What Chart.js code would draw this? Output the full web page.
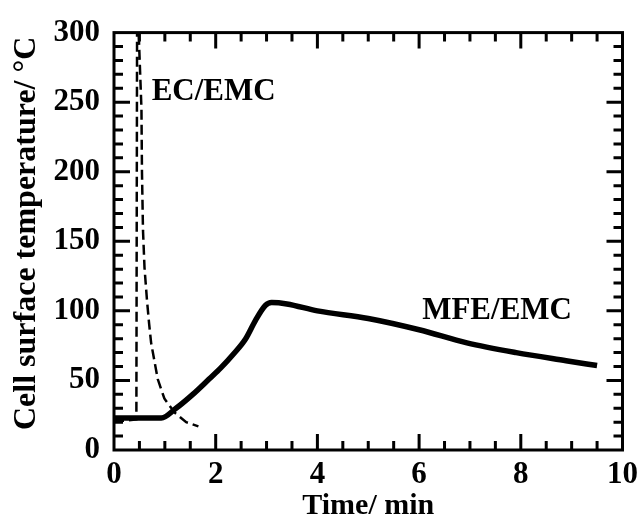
<!DOCTYPE html>
<html>
<head>
<meta charset="utf-8">
<script src="https://cdn.jsdelivr.net/npm/chart.js@4/dist/chart.umd.min.js"></script>
<style>
	body { margin: 0; background: #fff; }
	canvas { display: block; }
</style>
</head>
<body>
<canvas id="tempChart" width="644" height="521"></canvas>
<script>
// values
var mfeTime = [0, 0.5, 0.93, 1.22, 1.55, 1.87, 2.1, 2.35, 2.59, 2.78, 2.98, 3.1, 3.4, 4.0, 5.0, 6.0, 6.94, 7.91, 8.89, 9.5]
var mfeTemp = [23, 23, 23, 30, 40, 51, 59, 69, 80, 93, 104, 106, 105, 100, 94.5, 86.4, 77, 70, 64.2, 60.7]

var ecTime = [0, 0.2, 0.44, 0.455, 0.54, 0.55, 0.57, 0.6, 0.65, 0.69, 0.73, 0.79, 0.86, 0.99, 1.19, 1.42, 1.66]
var ecTemp = [21, 21, 22, 330, 245, 200, 158, 131, 107, 91, 77, 65, 51, 37, 27, 20, 17]

var xTicks = [0, 2, 4, 6, 8, 10]
var yTicks = [0, 50, 100, 150, 200, 250, 300]

var seriesLabels = ["MFE/EMC", "EC/EMC"]
var labelPos = [[6.06, 100], [0.74, 257]]

var FONT = "'Liberation Serif', 'Times New Roman', serif"

function toPoints(xs, ys) {
	var pts = []
	for (var i = 0; i < xs.length; i++) {
		pts.push({x: xs[i], y: ys[i]})
	}
	return pts
}

// frame, inward ticks on all four sides, and the curve labels
var framePlugin = {
	id: 'frame',
	afterDatasetsDraw: function(chart) {
		var ctx = chart.ctx
		var a = chart.chartArea
		var xs = chart.scales.x
		var ys = chart.scales.y
		ctx.save()
		ctx.strokeStyle = '#000'
		ctx.lineWidth = 3
		ctx.strokeRect(a.left, a.top, a.right - a.left, a.bottom - a.top)
		ctx.beginPath()
		for (var v = 0.5; v < 10; v += 0.5) {
			var px = xs.getPixelForValue(v)
			var len = (v % 2 === 0) ? 16 : 9
			ctx.moveTo(px, a.bottom)
			ctx.lineTo(px, a.bottom - len)
			ctx.moveTo(px, a.top)
			ctx.lineTo(px, a.top + len)
		}
		for (var t = 10; t < 300; t += 10) {
			var py = ys.getPixelForValue(t)
			var l2 = (t % 50 === 0) ? 16 : 9
			ctx.moveTo(a.left, py)
			ctx.lineTo(a.left + l2, py)
			ctx.moveTo(a.right, py)
			ctx.lineTo(a.right - l2, py)
		}
		ctx.stroke()

		ctx.fillStyle = '#000'
		ctx.font = 'bold 31px ' + FONT
		ctx.textAlign = 'left'
		ctx.textBaseline = 'middle'
		for (var i = 0; i < seriesLabels.length; i++) {
			ctx.fillText(seriesLabels[i], xs.getPixelForValue(labelPos[i][0]), ys.getPixelForValue(labelPos[i][1]))
		}
		ctx.restore()
	}
}

var ctx = document.getElementById('tempChart').getContext('2d')
var chart = new Chart(ctx, {
	type: 'line',
	data: {
		datasets: [
			{
				label: seriesLabels[0],
				data: toPoints(mfeTime, mfeTemp),
				borderColor: '#000',
				borderWidth: 5.5,
				pointRadius: 0,
				cubicInterpolationMode: 'monotone'
			},
			{
				label: seriesLabels[1],
				data: toPoints(ecTime, ecTemp),
				borderColor: '#000',
				borderWidth: 2.5,
				borderDash: [10, 5],
				pointRadius: 0,
				tension: 0
			}
		]
	},
	options: {
		responsive: false,
		animation: false,
		layout: { padding: { top: 22, right: 17, left: 0, bottom: 0 } },
		plugins: { legend: { display: false }, tooltip: { enabled: false } },
		scales: {
			x: {
				type: 'linear',
				min: 0, max: 10,
				grid: { display: false, drawTicks: false },
				border: { display: false },
				afterBuildTicks: function(s) { s.ticks = xTicks.map(function(v) { return {value: v} }) },
				afterFit: function(s) { s.height = 71 },
				ticks: {
					color: '#000', padding: 6, maxRotation: 0, autoSkip: false,
					font: { family: FONT, size: 31, weight: 'bold' }
				},
				title: {
					display: true, text: 'Time/ min', color: '#000',
					padding: { top: 0, bottom: 0 },
					font: { family: FONT, size: 30, weight: 'bold', lineHeight: 1 }
				}
			},
			y: {
				min: 0, max: 300,
				grid: { display: false, drawTicks: false },
				border: { display: false },
				afterBuildTicks: function(s) { s.ticks = yTicks.map(function(v) { return {value: v} }) },
				afterFit: function(s) { s.width = 114 },
				ticks: {
					color: '#000', padding: 14, autoSkip: false,
					font: { family: FONT, size: 31, weight: 'bold' }
				},
				title: {
					display: true, text: '  Cell surface temperature/ °C', color: '#000',
					padding: { top: 11, bottom: 0 },
					font: { family: FONT, size: 32, weight: 'bold', lineHeight: 1 }
				}
			}
		}
	},
	plugins: [framePlugin]
})
</script>
</body>
</html>
